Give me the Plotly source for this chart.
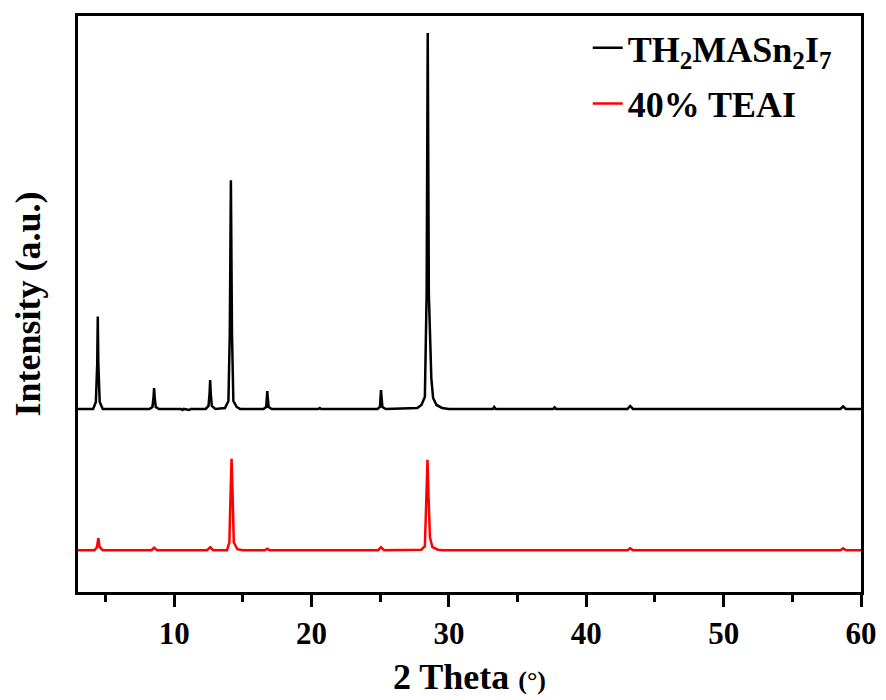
import plotly.graph_objects as go

# ---- data (2θ in degrees, intensity in a.u., traces already vertically offset) ----
theta_th2 = [3.0, 4.10, 4.30, 4.40, 4.44, 4.48, 4.58, 4.80,
             8.20, 8.42, 8.50, 8.54, 8.58, 8.66, 8.90,
             10.5, 10.6, 10.7, 11.1, 11.2,
             12.30, 12.50, 12.58, 12.62, 12.66, 12.74, 13.00,
             13.70, 13.95, 14.05, 14.13, 14.21, 14.31, 14.55, 14.80,
             16.50, 16.70, 16.75, 16.78, 16.81, 16.88, 17.10,
             20.5, 20.6, 20.7,
             24.80, 24.98, 25.03, 25.06, 25.09, 25.16, 25.40,
             27.70, 28.00, 28.25, 28.38, 28.46, 28.54, 28.62, 28.72, 28.85, 29.10, 29.50, 30.0,
             33.2, 33.3, 33.4, 37.6, 37.7, 37.8, 43.0, 43.2, 43.4,
             58.5, 58.7, 58.9, 60.0]
int_th2 = [184, 184, 191, 230, 277, 230, 191, 184,
           184, 186, 196, 205, 196, 186, 184,
           184, 183, 184, 183, 184,
           184, 187, 200, 213, 200, 187, 184,
           185, 192, 260, 414, 260, 192, 186, 184,
           184, 186, 196, 202, 196, 186, 184,
           184, 185, 184,
           184, 186, 197, 203, 197, 186, 184,
           185, 188, 196, 300, 562, 300, 249, 215, 195, 188, 185, 184,
           184, 186, 184, 184, 185.5, 184, 184, 187, 184,
           184, 186.5, 184, 184]

theta_teai = [3.0, 4.20, 4.38, 4.48, 4.58, 4.80,
              8.35, 8.54, 8.75,
              12.40, 12.62, 12.85,
              13.85, 14.02, 14.10, 14.18, 14.26, 14.34, 14.60, 15.0,
              16.6, 16.78, 16.95,
              24.85, 25.06, 25.28,
              28.0, 28.25, 28.36, 28.44, 28.52, 28.62, 28.80, 29.2, 29.6,
              43.0, 43.2, 43.4,
              58.5, 58.7, 58.9, 60.0]
int_teai = [42, 42, 45, 54, 45, 42,
            42, 44.5, 42,
            42, 45, 42,
            42, 50, 95, 134, 95, 50, 43, 42,
            42, 43.5, 42,
            42, 45, 42,
            42.5, 46, 95, 133, 95, 55, 45, 42.5, 42,
            42, 44, 42,
            42, 44, 42, 42]

series_names = ["TH<sub>2</sub>MASn<sub>2</sub>I<sub>7</sub>", "40% TEAI"]
x_ticks = [10, 20, 30, 40, 50, 60]

FONT = "Liberation Serif"

fig = go.Figure()
fig.add_trace(go.Scatter(x=theta_th2, y=int_th2, mode="lines", name=series_names[0],
                         legendgroup="a", line=dict(color="black", width=2.5)))
fig.add_trace(go.Scatter(x=theta_teai, y=int_teai, mode="lines", name=series_names[1],
                         legendgroup="b", line=dict(color="#ff0000", width=2.5)))

# page body has an 8px default margin: shrink the figure so the plot box lands where the reference has it
fig.update_layout(
    width=878, height=692,
    margin=dict(l=70, r=25, t=5, b=108),
    paper_bgcolor="white", plot_bgcolor="white",
    font=dict(family=FONT, color="black"),
    showlegend=True,
    legend=dict(x=0.651, y=0.997, xanchor="left", yanchor="top",
                bgcolor="rgba(0,0,0,0)", borderwidth=0,
                font=dict(family=FONT, size=36, color="black", weight="bold"),
                tracegroupgap=6),
)

fig.update_xaxes(
    range=[3, 60], tickvals=x_ticks, ticktext=[f"<b>{v}</b>" for v in x_ticks],
    ticks="outside", ticklen=12, tickwidth=2.5, tickcolor="black",
    minor=dict(dtick=5, tick0=0, ticks="outside", ticklen=7, tickwidth=2.5, tickcolor="black"),
    showline=True, linewidth=2.5, linecolor="black", mirror=True,
    showgrid=False, zeroline=False,
    tickfont=dict(family=FONT, size=31, color="black"),
    title=dict(text="<b>2 Theta</b> <span style='font-size:26px'><b>(°)</b></span>",
               font=dict(family=FONT, size=36, color="black"), standoff=14),
)
fig.update_yaxes(
    range=[0, 579], showticklabels=False, ticks="",
    showline=True, linewidth=2.5, linecolor="black", mirror=True,
    showgrid=False, zeroline=False,
    title=dict(text="<b>Intensity (a.u.)</b>",
               font=dict(family=FONT, size=36, color="black"), standoff=24),
)

fig.write_html("out.html")
